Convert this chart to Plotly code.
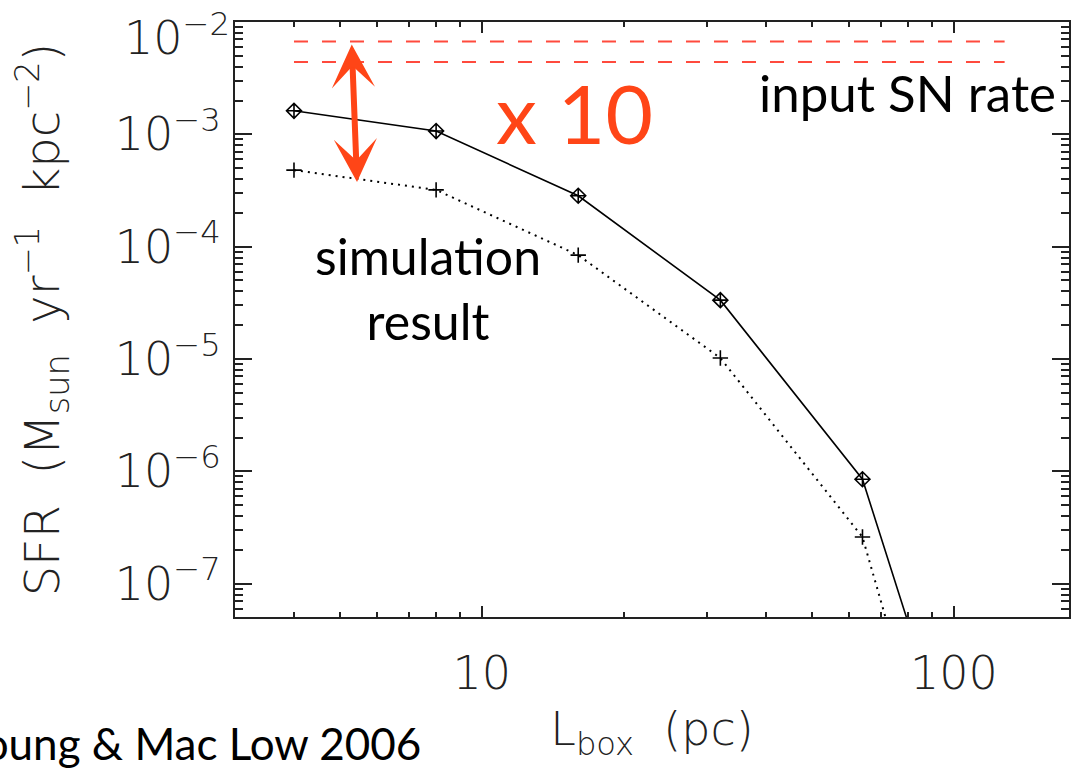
import numpy as np
import plotly.graph_objects as go

# ---- data ----
L_box = [4, 8, 16, 32, 64, 128]
sfr_solid = [1.62e-3, 1.07e-3, 2.84e-4, 3.34e-5, 8.5e-7, 9e-11]
sfr_dotted = [4.8e-4, 3.2e-4, 8.4e-5, 1.02e-5, 2.6e-7, 1e-11]
sn_x = [4, 128]
sn_rate_high = [6.7e-3, 6.7e-3]
sn_rate_low = [4.4e-3, 4.4e-3]

y_tick_vals = [1e-7, 1e-6, 1e-5, 1e-4, 1e-3, 1e-2]
y_tick_text = ["10<sup>\u22127</sup>", "10<sup>\u22126</sup>", "10<sup>\u22125</sup>",
               "10<sup>\u22124</sup>", "10<sup>\u22123</sup>", ""]
top_label = "10<sup>\u22122</sup>"
x_tick_vals = [10, 100]
x_tick_text = ["10", "100"]

# arrow ("x 10") end points
arrow_top = (5.3, 6.5e-3)
arrow_bottom = (5.44, 3.76e-4)

RED = "#FF4517"
DASH_RED = "#FF4A3D"
AX = "#222222"
AXFAMILY = "DejaVu Sans"
TICKFONT = dict(family=AXFAMILY, size=46, color=AX, weight=200)
TEXTFONT = dict(family="Lato", size=50, color="black")
NB = "\u00a0"

x_minor = [m * 10.0 ** k for k in range(0, 3) for m in range(2, 10)]
y_minor = [m * 10.0 ** k for k in range(-8, -1) for m in range(2, 10)]

fig = go.Figure()
fig.add_trace(go.Scatter(x=sn_x, y=sn_rate_high, mode="lines",
                         line=dict(color=DASH_RED, width=2, dash="14px,14px"), showlegend=False))
fig.add_trace(go.Scatter(x=sn_x, y=sn_rate_low, mode="lines",
                         line=dict(color=DASH_RED, width=2, dash="14px,14px"), showlegend=False))
fig.add_trace(go.Scatter(x=L_box, y=sfr_dotted, mode="lines+markers",
                         line=dict(color="black", width=2, dash="2px,5px"),
                         marker=dict(symbol="cross-thin-open", size=11,
                                     line=dict(color="black", width=1.6)),
                         showlegend=False))
fig.add_trace(go.Scatter(x=L_box, y=sfr_solid, mode="lines+markers",
                         line=dict(color="black", width=1.6),
                         marker=dict(symbol="diamond-cross-open", size=11.5,
                                     line=dict(color="black", width=1.6)),
                         showlegend=False))

xmin, xmax = np.log10(3.0), 2.2436
ymin, ymax = -7.297, -2.0

fig.update_xaxes(type="log", range=[xmin, xmax],
                 tickmode="array", tickvals=x_tick_vals, ticktext=x_tick_text,
                 ticks="inside", ticklen=11, tickwidth=2, tickcolor=AX,
                 minor=dict(tickmode="array", tickvals=x_minor, ticks="inside",
                            ticklen=5, tickwidth=2, tickcolor=AX, showgrid=False),
                 showline=True, linecolor=AX, linewidth=2, mirror="allticks",
                 showgrid=False, zeroline=False, tickfont=TICKFONT,
                 ticklabelstandoff=15,
                 title=dict(text="L<sub>box</sub>" + NB * 2 + "(pc)",
                            font=dict(family=AXFAMILY, size=46, color=AX, weight=200),
                            standoff=14))
fig.update_yaxes(type="log", range=[ymin, ymax],
                 tickmode="array", tickvals=y_tick_vals, ticktext=y_tick_text,
                 ticks="inside", ticklen=17, tickwidth=2, tickcolor=AX,
                 minor=dict(tickmode="array", tickvals=y_minor, ticks="inside",
                            ticklen=8, tickwidth=2, tickcolor=AX, showgrid=False),
                 showline=True, linecolor=AX, linewidth=2, mirror="allticks",
                 showgrid=False, zeroline=False, tickfont=TICKFONT,
                 ticklabelstandoff=3,
                 title=dict(text="SFR" + NB * 2 + "(M<sub>sun</sub>" + NB * 2 + "yr<sup>\u22121</sup>"
                                 + NB * 2 + "kpc<sup>\u22122</sup>)",
                            font=dict(family=AXFAMILY, size=48, color=AX, weight=200), standoff=40))

# top tick label (drawn slightly below the frame, as in the reference)
fig.add_annotation(x=0, y=-2.12, xref="paper", yref="y", text=top_label, showarrow=False,
                   xanchor="right", yanchor="middle", xshift=-3, font=TICKFONT)

fig.add_annotation(x=np.log10(arrow_bottom[0]), y=np.log10(arrow_bottom[1]),
                   ax=np.log10(arrow_top[0]), ay=np.log10(arrow_top[1]),
                   xref="x", yref="y", axref="x", ayref="y", text="",
                   showarrow=True, arrowhead=3, startarrowhead=3, arrowside="end+start",
                   arrowwidth=6, arrowsize=1.2, startarrowsize=1.2, arrowcolor=RED,
                   standoff=0, startstandoff=0)
fig.add_annotation(x=1.196, y=-2.80, xref="x", yref="y", text="x 10", showarrow=False,
                   font=dict(family="Lato", size=82, color=RED), xanchor="center", yanchor="middle")
fig.add_annotation(x=2.2203, y=-2.625, xref="x", yref="y", text="input SN rate", showarrow=False,
                   font=dict(family="Lato", size=51, color="black"), xanchor="right", yanchor="middle")
fig.add_annotation(x=0.8857, y=-4.37, xref="x", yref="y", text="simulation<br>result",
                   showarrow=False, font=TEXTFONT, xanchor="center", yanchor="middle", align="center")
fig.add_annotation(x=0.2249, y=-0.2118, xref="paper", yref="paper", text="Young & Mac Low 2006",
                   showarrow=False, font=dict(family="Lato", size=44, color="black"),
                   xanchor="right", yanchor="middle")

fig.update_layout(width=1071, height=772, margin=dict(l=235, r=0, t=22, b=155),
                  plot_bgcolor="white", paper_bgcolor="white")

fig.write_html("out.html")
